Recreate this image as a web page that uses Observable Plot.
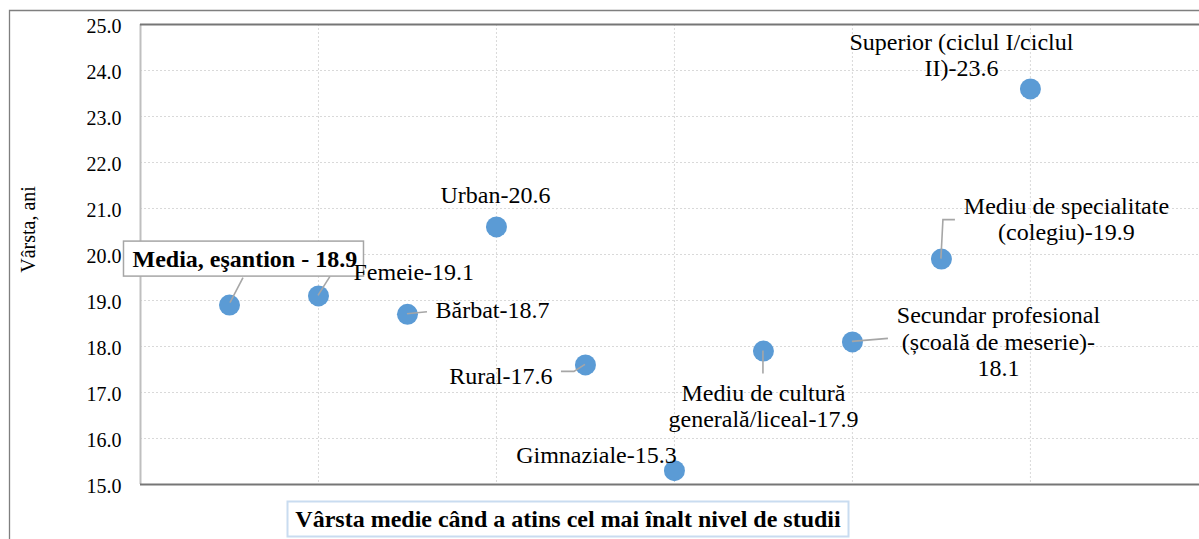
<!DOCTYPE html>
<html><head><meta charset="utf-8">
<script src="https://cdn.jsdelivr.net/npm/d3@7"></script>
<script src="https://cdn.jsdelivr.net/npm/@observablehq/plot@0.6"></script>
<style>html,body{margin:0;padding:0;background:#fff;} svg{display:block} #chart svg, #chart svg text{font-family:'Liberation Serif','Times New Roman',serif !important;}</style>
</head><body><div id="chart"></div>
<script>
// ---- data ----
const categories = ["Media, eşantion", "Femeie", "Bărbat", "Urban", "Rural", "Gimnaziale",
  "Mediu de cultură generală/liceal", "Secundar profesional (școală de meserie)",
  "Mediu de specialitate (colegiu)", "Superior (ciclul I/ciclul II)"];
const values = [18.9, 19.1, 18.7, 20.6, 17.6, 15.3, 17.9, 18.1, 19.9, 23.6];
const labelTexts = ["Media, eşantion - 18.9", "Femeie-19.1", "Bărbat-18.7", "Urban-20.6", "Rural-17.6",
  "Gimnaziale-15.3", "Mediu de cultură\ngenerală/liceal-17.9", "Secundar profesional\n(școală de meserie)-\n18.1",
  "Mediu de specialitate\n(colegiu)-19.9", "Superior (ciclul I/ciclul\nII)-23.6"];
const yTicks = [15, 16, 17, 18, 19, 20, 21, 22, 23, 24, 25];
const xGridTicks = [2, 4, 6, 8, 10];
const yTitle = "Vârsta, ani";
const chartTitle = "Vârsta medie când a atins cel mai înalt nivel de studii";

const data = categories.map((c, i) => ({category: c, x: i + 1, y: values[i], label: labelTexts[i]}));

// ---- label layout (pixel offsets from the point) ----
const layout = [
  {anchor: "start", dx: -97, dy: -38, bold: true, leader: [[1, -2], [14, -27]], box: [-106, -64, 240, 35]},
  {anchor: "start", dx: 35, dy: -16, leader: [[0, 0], [12, -19]]},
  {anchor: "start", dx: 28, dy: 4, leader: [[0, 0], [20, -2]]},
  {anchor: "middle", dx: -1, dy: -24},
  {anchor: "end", dx: -33, dy: 19, leader: [[0, 0], [-11, 7], [-24, 7]]},
  {anchor: "middle", dx: -78, dy: -8},
  {anchor: "middle", dx: 0, dy: 76, leader: [[0, 0], [0, 23]]},
  {anchor: "middle", dx: 146, dy: 34, leader: [[0, 0], [36, -3]]},
  {anchor: "middle", dx: 125, dy: -19, leader: [[0, 0], [2, -39], [14, -39]]},
  {anchor: "middle", dx: -69, dy: -13}
];

const FONT = "'Liberation Serif', 'Times New Roman', serif";

const leaderMark = (index, scales) => {
  const g = d3.create("svg:g");
  data.forEach((d, i) => {
    const L = layout[i].leader;
    if (!L) return;
    const px = scales.x(d.x), py = scales.y(d.y);
    g.append("polyline")
      .attr("points", L.map(([a, b]) => `${px + a},${py + b}`).join(" "))
      .attr("fill", "none").attr("stroke", "#A6A6A6").attr("stroke-width", 1.6);
  });
  return g.node();
};

const boxMark = (index, scales) => {
  const g = d3.create("svg:g");
  data.forEach((d, i) => {
    const B = layout[i].box;
    if (!B) return;
    const px = scales.x(d.x), py = scales.y(d.y);
    g.append("rect").attr("x", px + B[0] + 0.5).attr("y", py + B[1] + 0.5)
      .attr("width", B[2]).attr("height", B[3])
      .attr("fill", "#fff").attr("stroke", "#A6A6A6").attr("stroke-width", 1.5);
  });
  return g.node();
};

const decorMark = (index, scales, values, dim) => {
  const g = d3.create("svg:g");
  g.append("path").attr("d", `M9.5,${dim.height} V10.5 H${dim.width}`)
    .attr("fill", "none").attr("stroke", "#7F7F7F").attr("stroke-width", 1.3);
  g.append("rect").attr("x", 287.5).attr("y", 501.5).attr("width", 561).attr("height", 35)
    .attr("fill", "#fff").attr("stroke", "#C9DCF0").attr("stroke-width", 2);
  g.append("text").attr("x", 568).attr("y", 527).attr("text-anchor", "middle")
    .attr("font-size", 24).attr("font-weight", "bold").attr("fill", "#000")
    .attr("font-family", FONT).text(chartTitle);
  return g.node();
};

const labelMarks = data.map((d, i) => Plot.text([d], {
  x: "x", y: "y", text: "label",
  textAnchor: layout[i].anchor, lineAnchor: "bottom", lineHeight: 1.1,
  dx: layout[i].dx, dy: layout[i].dy, fontFamily: FONT,
  fontSize: 24, fontWeight: layout[i].bold ? "bold" : "normal", fill: "#000"
}));

const chart = Plot.plot({
  width: 1199, height: 539,
  marginLeft: 140, marginRight: 0, marginTop: 24, marginBottom: 55,
  style: {fontFamily: FONT, background: "#fff", color: "#000"},
  x: {domain: [0, 11.9], axis: null},
  y: {domain: [15, 25], axis: null},
  marks: [
    Plot.gridY(yTicks.slice(1, -1), {stroke: "#D9D9D9", strokeOpacity: 1, strokeDasharray: "2,2"}),
    Plot.gridX(xGridTicks, {stroke: "#D9D9D9", strokeOpacity: 1, strokeDasharray: "2,2"}),
    Plot.ruleX([0], {stroke: "#BFBFBF", strokeWidth: 2}),
    Plot.ruleY([25], {stroke: "#767676", strokeWidth: 2}),
    Plot.ruleY([15], {stroke: "#767676", strokeWidth: 2}),
    Plot.dot(data, {x: "x", y: "y", r: 10.5, fill: "#5B9BD5", stroke: "none"}),
    leaderMark,
    boxMark,
    ...labelMarks,
    Plot.axisY(yTicks, {tickFormat: d => d.toFixed(1), tickSize: 0, tickPadding: 19, fontSize: 20, fontFamily: FONT, dy: 2, label: null, fill: "#000"}),
    Plot.text([yTitle], {frameAnchor: "left", textAnchor: "middle", lineAnchor: "middle", text: d => d, rotate: -90, dx: -112, dy: -25, fontSize: 20, fontFamily: FONT, fill: "#000"}),
    decorMark
  ]
});
document.getElementById("chart").appendChild(chart);
</script>
</body></html>
